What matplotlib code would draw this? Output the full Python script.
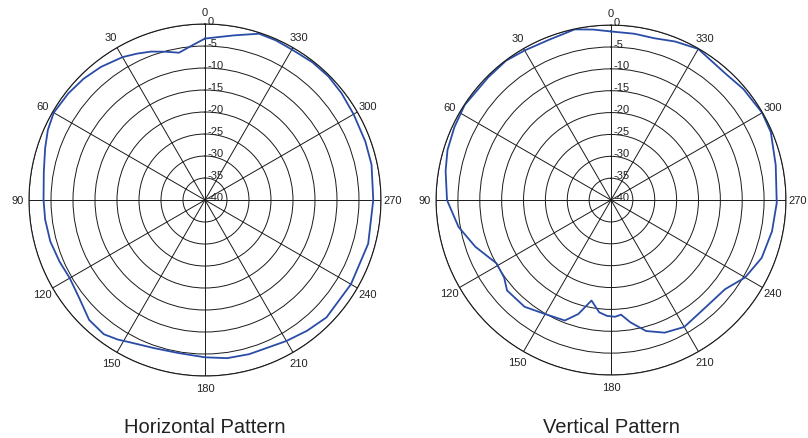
import numpy as np
import matplotlib.pyplot as plt

plt.rcParams['font.family'] = ['Liberation Sans', 'DejaVu Sans']

# angle in degrees (0 at top, counter-clockwise), level in dB
h_angle = [0, 5, 10, 15, 20, 25, 30, 38, 45, 52, 60, 66, 72, 80, 90, 97, 105, 113, 120,
           128, 136, 143, 148, 152, 161, 170, 180, 188, 196, 210, 218, 226, 240, 255, 270,
           282, 290, 300, 308, 315, 322, 330, 336, 342, 350, 355]
h_db = [-3.3, -4.8, -6.0, -5.1, -4.1, -3.3, -2.5, -1.6, -1.0, -0.6, -0.3, -0.9, -1.8, -2.8,
        -3.3, -3.4, -3.6, -4.1, -4.5, -3.75, -2.1, -1.8, -2.6, -3.4, -4.4, -4.7, -4.25, -3.7,
        -3.55, -3.0, -2.3, -1.6, -1.7, -1.6, -1.75, -1.3, -1.2, -1.0, -0.6, -0.3, -0.3, -0.5,
        -0.3, -0.25, -2.0, -2.8]

v_angle = [0, 6, 12, 21, 30, 37, 45, 57, 65, 73, 80, 90, 100, 109, 119, 126, 131, 141, 150,
           159, 164, 169, 174, 178, 182, 185, 189, 195, 202, 210, 221, 232, 240, 249, 259,
           269, 282, 293, 300, 310, 318, 330, 338, 345, 352]
v_db = [-1.45, -0.8, -0.1, -0.7, -0.5, -0.1, -0.3, -0.1, -0.5, -0.9, -1.6, -2.5, -4.6, -7.2,
        -10.1, -9.8, -8.5, -8.6, -9.9, -10.5, -12.9, -16.6, -14.2, -13.5, -13.3, -13.7, -11.7,
        -9.0, -7.3, -6.5, -7.3, -6.9, -4.6, -3.1, -2.5, -2.1, -1.5, -0.3, -0.1, -0.5, -1.0,
        -0.1, -0.9, -1.7, -1.6]

ring_db = [0, -5, -10, -15, -20, -25, -30, -35, -40]
spoke_deg = list(range(0, 360, 30))
titles = ["Horizontal Pattern", "Vertical Pattern"]

fig = plt.figure(figsize=(8.08, 4.39), dpi=100)
boxes = [[0.0359, 0.1412, 0.4356, 0.8018], [0.5396, 0.1435, 0.4332, 0.797]]
line_col = '#2a4ca6'
grid_col = '#1a1a1a'

for box, ang, db, title in zip(boxes, [h_angle, v_angle], [h_db, v_db], titles):
    ax = fig.add_axes(box, projection='polar')
    ax.set_theta_zero_location('N')
    ax.set_theta_direction(1)
    th = np.radians(ang + [ang[0]])
    ax.plot(th, db + [db[0]], color=line_col, lw=1.3)
    ax.set_rlim(-40, 0)
    ax.set_rticks(ring_db)
    ax.set_yticklabels([])
    ax.set_thetagrids(spoke_deg, [str(a) for a in spoke_deg])
    ax.tick_params(axis='x', pad=-2, labelsize=8, colors='#222222')
    ax.grid(True, color=grid_col, lw=0.7)
    ax.spines['polar'].set_color(grid_col)
    ax.spines['polar'].set_linewidth(0.8)
    for r in ring_db:
        ax.annotate(str(r), xy=(0, r), xytext=(2, 2.5), textcoords='offset points',
                    ha='left', va='center', fontsize=8, color='#222222',
                    annotation_clip=False)
    fig.text(box[0] + box[2] / 2, 0.026, title, ha='center', va='center', fontsize=14.5,
             color='#222222')

plt.savefig('out.png', dpi=100)
